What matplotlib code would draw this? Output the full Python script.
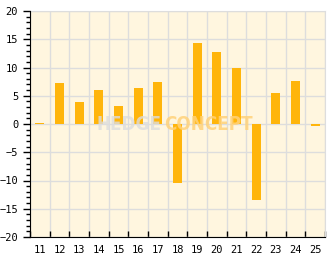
import matplotlib
matplotlib.use("Agg")
import matplotlib.pyplot as plt
import numpy as np

categories = ["11", "12", "13", "14", "15", "16", "17", "18", "19", "20", "21", "22", "23", "24", "25"]
values = [0.2, 7.2, 3.9, 6.0, 3.2, 6.3, 7.4, -10.5, 14.4, 12.8, 9.9, -13.4, 5.4, 7.6, -0.3]
y_ticks = [-20, -15, -10, -5, 0, 5, 10, 15, 20]

fig = plt.figure(figsize=(3.32, 2.69), dpi=100)
ax = fig.add_axes([30/332, 32/269, 295/332, 226/269])
ax.set_facecolor("#FFF6DF")

x = np.arange(len(categories))
ax.bar(x, values, width=0.46, color="#FFB50B", zorder=3)

ax.set_xlim(-0.5, len(categories) - 0.5)
ax.set_ylim(-20, 20)

# x: boundaries as major ticks (grid), labels at centers
ax.set_xticks(np.arange(-0.5, len(categories), 1.0))
ax.set_xticklabels([])
ax.set_xticks(x, minor=True)
ax.set_xticklabels(categories, minor=True)
ax.tick_params(axis="x", which="major", direction="in", length=4, width=1, color="black")
ax.tick_params(axis="x", which="minor", length=0, pad=6)

ax.set_yticks(y_ticks)
ax.set_yticks(np.arange(-20, 21, 1), minor=True)
ax.tick_params(axis="y", which="major", direction="out", length=5, width=1)
ax.tick_params(axis="y", which="minor", direction="out", length=3, width=1)
ax.tick_params(axis="y", which="minor", labelleft=False)

for lab in ax.get_xticklabels(minor=True) + ax.get_yticklabels():
    lab.set_fontfamily("DejaVu Sans Mono")
    lab.set_fontsize(7.5)

ax.grid(True, which="major", color="#DDDDDD", linewidth=1, zorder=0)
ax.set_axisbelow(True)

for s in ["top", "right"]:
    ax.spines[s].set_color("#DDDDDD")
ax.spines["left"].set_color("black")
ax.spines["bottom"].set_color("black")
ax.spines["left"].set_zorder(5)
ax.spines["bottom"].set_zorder(5)

# watermark
ax.text(0.447, 0.5, "HEDGE", transform=ax.transAxes, fontsize=13.5, fontweight="bold",
        fontstretch="condensed", family="DejaVu Sans", color="#DDDDDD", alpha=0.8,
        ha="right", va="center", zorder=4)
ax.text(0.456, 0.5, "CONCEPT", transform=ax.transAxes, fontsize=13.5, fontweight="bold",
        fontstretch="condensed", family="DejaVu Sans", color="#FFD27A", alpha=0.85,
        ha="left", va="center", zorder=4)

fig.savefig("out.png", dpi=100, facecolor="white")
